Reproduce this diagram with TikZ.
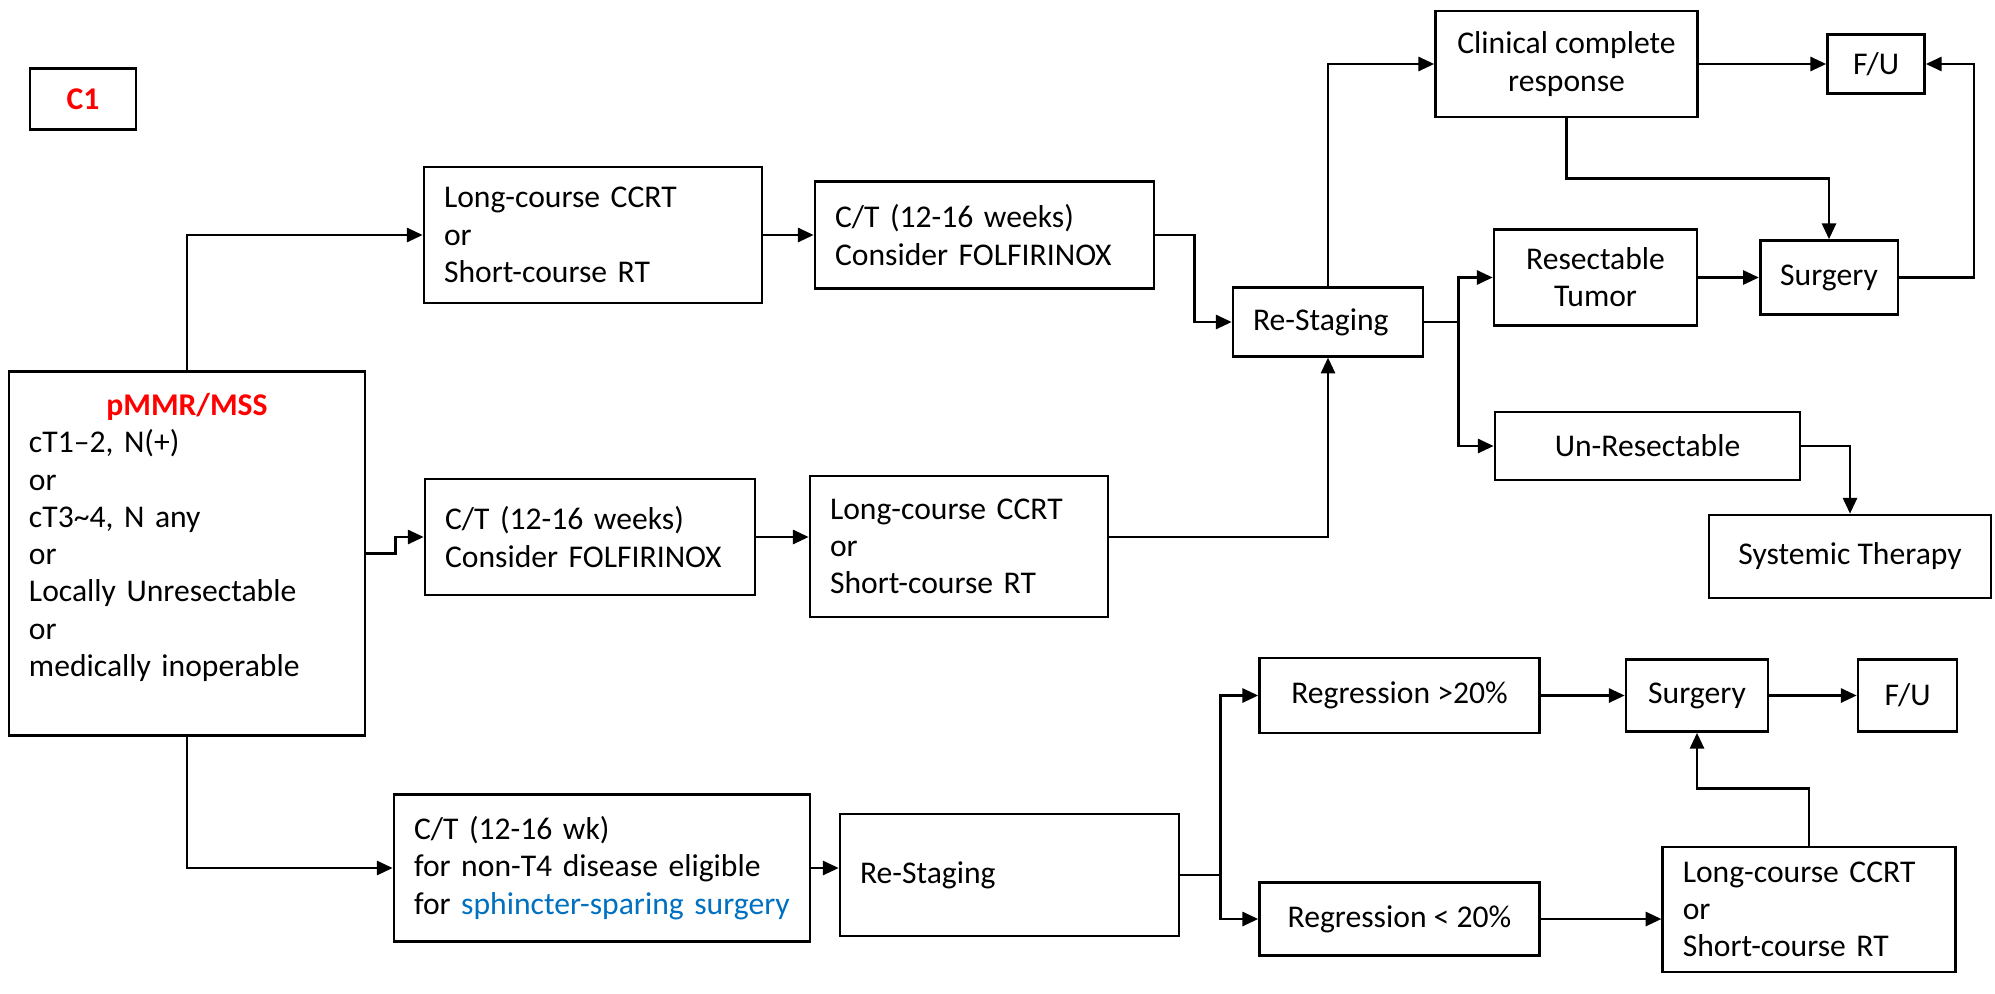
\documentclass[tikz,border=0pt]{standalone}
\usepackage{fontspec}
\setmainfont{Carlito}
\usetikzlibrary{arrows.meta}
\definecolor{linkblue}{RGB}{0,112,192}
\tikzstyle{box} = [rectangle, draw=black, line width=0.75pt, inner xsep=0.2cm, inner ysep=0.05cm, align=center, font=\fontsize{9pt}{10.6pt}\selectfont]
\tikzstyle{lbox} = [box, align=left]
\tikzstyle{arrow} = [line width=0.75pt, -{Triangle[length=4.5pt,width=4pt]}]
\tikzstyle{conn} = [line width=0.75pt]

\begin{document}
\begin{tikzpicture}
\useasboundingbox (0,0) rectangle (19.95,-9.93);

\node (cone) [box, minimum width=1.06cm, minimum height=0.61cm, xshift=0.83cm, yshift=-0.99cm] {\textcolor{red}{\textbf{C1}}};
\node (pmmr) [lbox, text width=3.16cm, minimum height=3.64cm, xshift=1.87cm, yshift=-5.535cm] {\makebox[\linewidth]{\textcolor{red}{\textbf{pMMR/MSS}}}\\ cT1–2, N(+)\\ or\\ cT3\textasciitilde4, N any\\ or\\ Locally Unresectable\\ or\\ medically inoperable\\ \mbox{}};

\node (lcrt) [lbox, text width=2.98cm, minimum height=1.36cm, xshift=5.93cm, yshift=-2.35cm] {Long-course CCRT\\ or\\ Short-course RT};
\node (ctone) [lbox, text width=2.99cm, minimum height=1.07cm, xshift=9.845cm, yshift=-2.35cm] {C/T (12-16 weeks)\\ Consider FOLFIRINOX};
\node (rsone) [lbox, text width=1.50cm, minimum height=0.685cm, xshift=13.28cm, yshift=-3.22cm] {Re-Staging};
\node (ccr) [box, minimum width=2.62cm, minimum height=1.06cm, xshift=15.665cm, yshift=-0.64cm] {Clinical complete\\ response};
\node (fuone) [box, minimum width=0.97cm, minimum height=0.59cm, xshift=18.76cm, yshift=-0.64cm] {F/U};
\node (surgone) [box, minimum width=1.36cm, minimum height=0.74cm, xshift=18.29cm, yshift=-2.775cm] {Surgery};
\node (rest) [box, minimum width=2.03cm, minimum height=0.96cm, xshift=15.955cm, yshift=-2.775cm] {Resectable\\ Tumor};
\node (unres) [box, minimum width=3.05cm, minimum height=0.68cm, xshift=16.475cm, yshift=-4.46cm] {Un-Resectable};
\node (sys) [box, minimum width=2.82cm, minimum height=0.83cm, xshift=18.50cm, yshift=-5.565cm] {Systemic Therapy};

\node (cttwo) [lbox, text width=2.90cm, minimum height=1.16cm, xshift=5.90cm, yshift=-5.37cm] {C/T (12-16 weeks)\\ Consider FOLFIRINOX};
\node (lcrtb) [lbox, text width=2.58cm, minimum height=1.41cm, xshift=9.59cm, yshift=-5.465cm] {Long-course CCRT\\ or\\ Short-course RT};

\node (ctthree) [lbox, text width=3.76cm, minimum height=1.475cm, xshift=6.02cm, yshift=-8.68cm] {C/T (12-16 wk)\\ for non-T4 disease eligible\\ for \textcolor{linkblue}{sphincter-sparing surgery}};
\node (rstwo) [lbox, text width=2.99cm, minimum height=1.22cm, xshift=10.095cm, yshift=-8.75cm] {Re-Staging};
\node (regup) [box, minimum width=2.80cm, minimum height=0.75cm, xshift=13.995cm, yshift=-6.955cm] {Regression >20\%};
\node (surgtwo) [box, minimum width=1.42cm, minimum height=0.72cm, xshift=16.97cm, yshift=-6.955cm] {Surgery};
\node (futwo) [box, minimum width=0.99cm, minimum height=0.72cm, xshift=19.075cm, yshift=-6.955cm] {F/U};
\node (regdown) [box, minimum width=2.80cm, minimum height=0.735cm, xshift=13.995cm, yshift=-9.19cm] {Regression < 20\%};
\node (lcrtc) [lbox, text width=2.525cm, minimum height=1.25cm, xshift=18.09cm, yshift=-9.095cm] {Long-course CCRT\\ or\\ Short-course RT};

\coordinate (splitone) at ([xshift=0.34cm]rsone.east);
\coordinate (splittwo) at ([xshift=0.40cm]rstwo.east);

\draw [arrow] (pmmr.north) |- (lcrt.west);
\draw [arrow] (lcrt) -- (ctone);
\draw [arrow] (ctone.east) -- ++(0.39,0) |- (rsone.west);
\draw [arrow] (rsone.north) |- (ccr.west);
\draw [arrow] (ccr) -- (fuone);
\draw [arrow] (ccr.south) -- ++(0,-0.6) -| (surgone.north);
\draw [arrow] (surgone.east) -- ++(0.75,0) |- (fuone.east);
\draw [conn] (rsone.east) -- (splitone);
\draw [arrow] (splitone) |- (rest.west);
\draw [arrow] (splitone) |- (unres.west);
\draw [arrow] (rest) -- (surgone);
\draw [arrow] (unres.east) -| (sys.north);
\draw [arrow] (pmmr.east) -- ++(0.29,0) |- (cttwo.west);
\draw [arrow] (cttwo.east) -- (cttwo.east -| lcrtb.west);
\draw [arrow] (cttwo.east -| lcrtb.east) -| (rsone.south);
\draw [arrow] (pmmr.south) |- (ctthree.west);
\draw [arrow] (ctthree.east) -- (ctthree.east -| rstwo.west);
\draw [conn] (rstwo.east) -- (splittwo);
\draw [arrow] (splittwo) |- (regup.west);
\draw [arrow] (splittwo) |- (regdown.west);
\draw [arrow] (regup) -- (surgtwo);
\draw [arrow] (surgtwo) -- (futwo);
\draw [arrow] (regdown.east) -- (regdown.east -| lcrtc.west);
\draw [arrow] (lcrtc.north) -- ++(0,0.57) -| (surgtwo.south);
\end{tikzpicture}
\end{document}
